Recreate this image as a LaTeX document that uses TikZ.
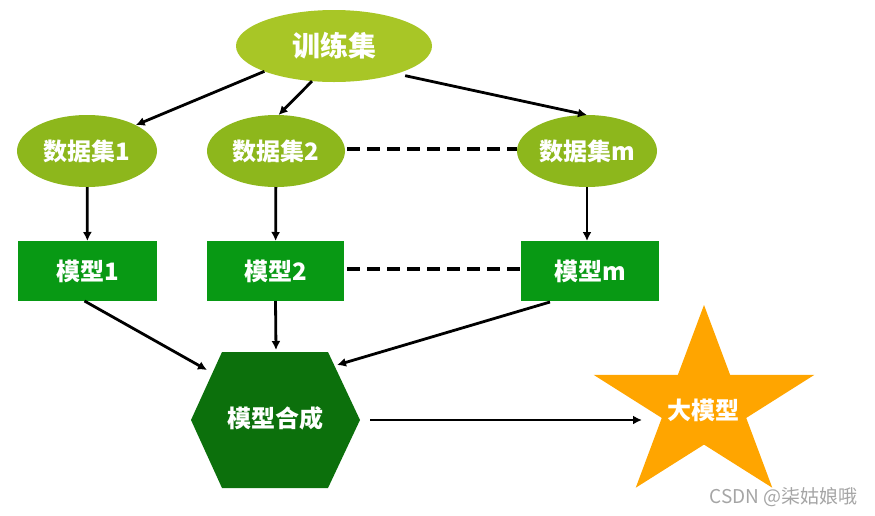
\documentclass[tikz,border=0pt]{standalone}
\usepackage{fontspec}
\setmainfont{Noto Sans CJK SC}
\usetikzlibrary{shapes.geometric,arrows.meta}
\definecolor{trainc}{RGB}{168,198,38}
\definecolor{dsc}{RGB}{141,183,28}
\definecolor{rectc}{RGB}{8,153,20}
\definecolor{hexc}{RGB}{12,112,12}
\definecolor{starc}{RGB}{255,165,0}
\definecolor{wmc}{RGB}{165,165,165}
\begin{document}
\begin{tikzpicture}[x=1pt,y=-1pt,
  lbl/.style={text=white,font=\fontsize{24}{26}\selectfont\bfseries,inner sep=0pt,outer sep=0pt},
  ell/.style={lbl,ellipse,fill=dsc,minimum width=140pt,minimum height=72pt},
  box/.style={lbl,rectangle,fill=rectc,minimum width=139pt,minimum height=60pt},
  arr/.style={draw=black,line width=2.8pt,-{Latex[length=9pt,width=9pt]}},
  dsh/.style={draw=black,line width=3.8pt,dash pattern=on 13pt off 7pt}]
\useasboundingbox (0,0) rectangle (875,515);
% nodes
\node[ell,fill=trainc,minimum width=196pt,font=\fontsize{28}{30}\selectfont\bfseries] (train) at (334,46) {训练集};
\node[ell] (ds1) at (87,151) {数据集1};
\node[ell,minimum width=138pt] (ds2) at (276,151) {数据集2};
\node[ell] (dsm) at (587,151) {数据集m};
\node[box] (m1) at (87.5,271) {模型1};
\node[box,minimum width=137pt] (m2) at (275.5,271) {模型2};
\node[box,minimum width=138pt] (mm) at (590,271) {模型m};
% hexagon
\fill[hexc] (222,352) -- (328,352) -- (360,420) -- (328,488) -- (222,488) -- (191,420) -- cycle;
\node[lbl] (hex) at (275.5,418) {模型合成};
% star
\begin{scope}[shift={(704,406)},xscale=1.15,yscale=-1]
\fill[starc] (90:101) -- (126:38.6) -- (162:101) -- (198:38.6) -- (234:101) -- (270:38.6)
  -- (306:101) -- (342:38.6) -- (18:101) -- (54:38.6) -- cycle;
\end{scope}
\node[lbl] (big) at (703,410) {大模型};
% connector end points
\coordinate (hexUL) at (207,370);
\coordinate (hexT) at (276,350);
\coordinate (hexUR) at (337,365);
\coordinate (hexR) at (370,420);
\coordinate (starL) at (642,420);
% arrows
\draw[arr] (train.200) -- (ds1.28);
\draw[arr] (train.238) -- (ds2.86);
\draw[arr,shorten <=9pt] (train.336) -- (dsm.90);
\draw[arr] (ds1) -- (m1);
\draw[arr] (ds2) -- (m2);
\draw[arr] (dsm.south) -- (dsm.south |- mm.north);
\draw[arr] (m1.south) ++(-3,0) -- (hexUL);
\draw[arr] (m2.south) -- (hexT);
\draw[arr] (mm.south) ++(-40,1) -- (hexUR);
\draw[arr] (hexR) -- (starL);
% dashed links
\draw[dsh] (ds2.east) ++(2,-2) -- ([yshift=2pt]dsm.west);
\draw[dsh] (m2.east) ++(3,-2) -- ([yshift=2pt]mm.west);
% watermark
\node[anchor=east,text=wmc,font=\fontsize{19}{21}\selectfont,inner sep=0pt] (wm) at (858,497) {CSDN @柒姑娘哦};
\end{tikzpicture}
\end{document}
